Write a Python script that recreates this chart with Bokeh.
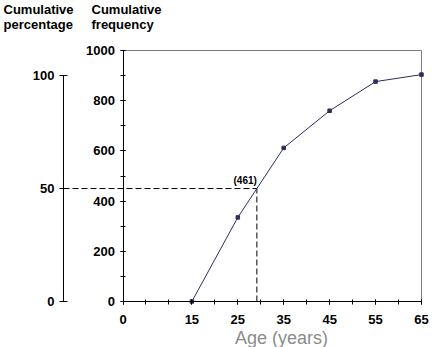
from bokeh.plotting import figure
from bokeh.models import Range1d, LinearAxis, FixedTicker, Label
from bokeh.embed import file_html
from bokeh.resources import INLINE
import numpy as np

# ---- data ----
ages = [15, 25, 35, 45, 55, 65]
cum_freq = [0, 335, 612, 760, 876, 904]
x_ticks = [0, 15, 25, 35, 45, 55, 65]
x_minor = list(range(0, 66, 5))
freq_ticks = [0, 200, 400, 600, 800, 1000]
freq_minor = list(range(0, 1001, 100))
pct_ticks = [0, 50, 100]
full_freq = 900          # cumulative frequency that corresponds to 100 %
median_pct = 50
median_label = "(461)"
x_title = "Age (years)"
pct_title = ["Cumulative", "percentage"]
freq_title = ["Cumulative", "frequency"]

# ---- layout: the frame covers the whole canvas; px -> data helpers ----
W, H = 442, 347
X_PX0, X_SCALE = 122.5, 4.592     # pixel of age 0, pixels per year
Y_PX0, Y_SCALE = 301.0, 0.251     # pixel of frequency 0, pixels per unit


def px_to_x(px):
    return (px - X_PX0) / X_SCALE


def px_to_y(py):
    return (Y_PX0 - py) / Y_SCALE


X0, X1 = px_to_x(0), px_to_x(W)
Y0, Y1 = px_to_y(H), px_to_y(0)
FONT = "Liberation Sans"

p = figure(width=W, height=H, x_range=Range1d(X0, X1), y_range=Range1d(Y0, Y1),
           output_backend="svg", toolbar_location=None,
           x_axis_location=None, y_axis_location=None,
           min_border_left=0, min_border_right=0, min_border_top=0, min_border_bottom=0)
p.outline_line_color = None
p.background_fill_color = "white"
p.border_fill_color = "white"
p.grid.visible = False

p.extra_y_ranges = {"pct": Range1d(100 * Y0 / full_freq, 100 * Y1 / full_freq)}


def style(ax, tin, tout, standoff):
    ax.axis_line_color = "black"
    ax.major_tick_line_color = "black"
    ax.minor_tick_line_color = "black"
    ax.major_tick_in = tin
    ax.major_tick_out = tout
    ax.minor_tick_in = tin
    ax.minor_tick_out = tout
    ax.major_label_text_font = FONT
    ax.major_label_text_font_style = "bold"
    ax.major_label_text_font_size = "13px"
    ax.major_label_text_color = "black"
    ax.major_label_standoff = standoff


xax = LinearAxis(ticker=FixedTicker(ticks=x_ticks, minor_ticks=x_minor),
                 bounds=(x_ticks[0], x_ticks[-1]), fixed_location=freq_ticks[0])
style(xax, 2, 3, 10)
p.add_layout(xax, "below")

pax = LinearAxis(y_range_name="pct", ticker=FixedTicker(ticks=pct_ticks),
                 bounds=(pct_ticks[0], pct_ticks[-1]), fixed_location=px_to_x(63))
style(pax, 4, 4, 5)
pax.minor_tick_line_color = None
p.add_layout(pax, "left")

fax = LinearAxis(ticker=FixedTicker(ticks=freq_ticks, minor_ticks=freq_minor),
                 bounds=(freq_ticks[0], freq_ticks[-1]), fixed_location=x_ticks[0])
style(fax, 2, 3, 5)
p.add_layout(fax, "left")

# frame border (top and right)
p.line(x=[x_ticks[0], x_ticks[-1], x_ticks[-1]],
       y=[freq_ticks[-1], freq_ticks[-1], freq_ticks[0]],
       line_color="#7a7a7a", line_width=1)

# median guides
median_freq = full_freq * median_pct / 100
median_age = float(np.interp(median_freq, cum_freq, ages))
p.line(x=[px_to_x(63), median_age], y=[median_pct, median_pct], y_range_name="pct",
       line_color="black", line_width=1, line_dash="6 3")
p.line(x=[median_age, median_age], y=[0, median_freq],
       line_color="black", line_width=1, line_dash="6 3")

# data
p.line(x=ages, y=cum_freq, line_color="#2e2e5e", line_width=1)
p.scatter(x=ages, y=cum_freq, marker="square", size=3.5,
          fill_color="#2e2e5e", line_color="#2e2e5e")

p.add_layout(Label(x=median_age, y=median_freq, text=median_label, text_align="right",
                   text_baseline="bottom", y_offset=3, text_font=FONT,
                   text_font_style="bold", text_font_size="10px", text_color="black"))

for i, t in enumerate(pct_title):
    p.add_layout(Label(x=px_to_x(3), y=px_to_y(9 + 14.5 * i), text=t, text_font=FONT,
                       text_font_style="bold", text_font_size="13px", text_color="black",
                       text_baseline="alphabetic"))
for i, t in enumerate(freq_title):
    p.add_layout(Label(x=px_to_x(91), y=px_to_y(9 + 14.5 * i), text=t, text_font=FONT,
                       text_font_style="bold", text_font_size="13px", text_color="black",
                       text_baseline="alphabetic"))

p.add_layout(Label(x=px_to_x(281), y=px_to_y(337), text=x_title, text_align="center",
                   text_baseline="alphabetic", text_font=FONT, text_font_size="18px",
                   text_color="#8c8c8c"))

open("out.html", "w").write(file_html(p, INLINE))
